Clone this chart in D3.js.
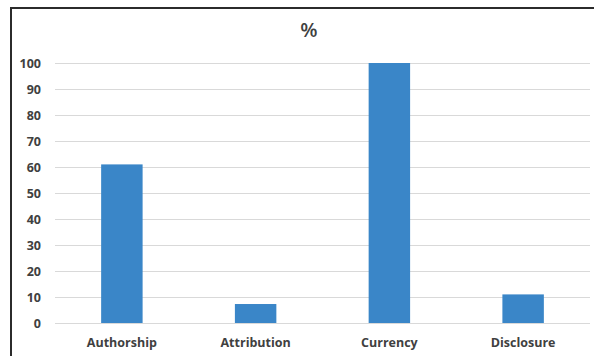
<!DOCTYPE html>
<html><head><meta charset="utf-8">
<script src="https://cdn.jsdelivr.net/npm/d3@7"></script>
<style>body{margin:0;background:#fff}svg{display:block}</style>
</head><body>
<svg id="c" width="594" height="356"></svg>
<script>
const categories = ["Authorship","Attribution","Currency","Disclosure"];
const values = [61, 7.3, 100, 11];
const yTicks = [0,10,20,30,40,50,60,70,80,90,100];
const title = "%";

const svg = d3.select("#c");
const W = 594, H = 356;
const x = d3.scaleBand().domain(categories).range([55, 590]).padding(0);
const y = d3.scaleLinear().domain([0,100]).range([323, 63]);

svg.append("rect").attr("x",11).attr("y",8).attr("width",W).attr("height",H)
  .attr("fill","#fff").attr("stroke","#2b2b2b").attr("stroke-width",2);

svg.append("text").attr("x",309).attr("y",37).attr("text-anchor","middle")
  .attr("font-family","Open Sans, Liberation Sans, sans-serif").attr("font-size",20)
  .attr("font-weight",600).attr("fill","#404040").text(title);

const ga = svg.append("g").attr("transform","translate(55,0)")
  .call(d3.axisLeft(y).tickValues(yTicks).tickSize(-(590-55)).tickPadding(14));
ga.select(".domain").remove();
ga.selectAll(".tick line").attr("stroke","#d9d9d9").attr("stroke-width",1.2);
ga.selectAll(".tick text").attr("font-family","Open Sans, Liberation Sans, sans-serif")
  .attr("font-weight","bold").attr("font-size",12.5).attr("fill","#404040");

const bw = x.bandwidth()*0.31;
svg.append("g").selectAll("rect").data(categories).join("rect")
  .attr("x",(d)=>x(d)+x.bandwidth()/2-bw/2)
  .attr("y",(d,i)=>y(values[i]))
  .attr("width",bw)
  .attr("height",(d,i)=>y(0)-y(values[i]))
  .attr("fill","#3a86c8");

const gx = svg.append("g").attr("transform","translate(0,323)")
  .call(d3.axisBottom(x).tickSize(0).tickPadding(15));
gx.select(".domain").remove();
gx.selectAll(".tick text").attr("font-family","Open Sans, Liberation Sans, sans-serif")
  .attr("font-weight","bold").attr("font-size",12.5).attr("fill","#404040");
</script>
</body></html>
